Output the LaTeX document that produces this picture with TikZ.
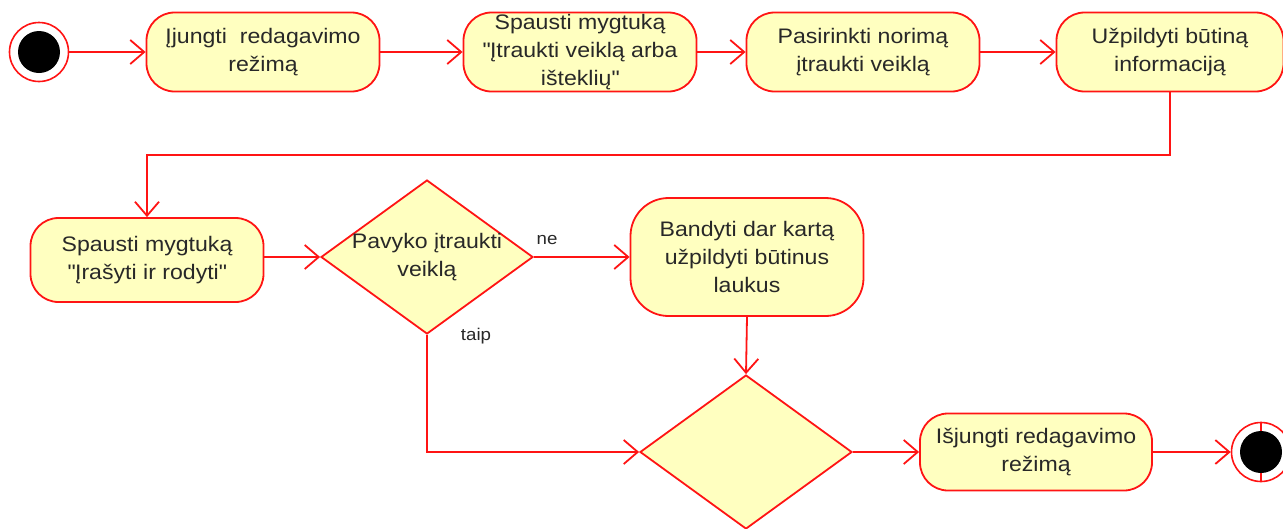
\documentclass[tikz,border=0pt]{standalone}
\usepackage{fontspec}
\setmainfont[FakeStretch=1.1]{Liberation Sans}
\usetikzlibrary{arrows.meta,shapes.geometric}
\definecolor{boxfill}{RGB}{255,255,192}
\definecolor{linered}{RGB}{255,20,20}
\definecolor{txt}{RGB}{40,40,40}
\newcommand{\qd}{\textquotedbl}
\tikzset{
  act/.style={draw=linered, line width=1.8pt, fill=boxfill, rounded corners=28pt,
    minimum width=233pt, minimum height=79pt, align=center, text=txt,
    font=\fontsize{21}{28}\selectfont, inner sep=0pt},
  dec/.style={draw=linered, line width=1.8pt, fill=boxfill, diamond,
    minimum width=212pt, minimum height=154pt, inner sep=0pt},
  flow/.style={draw=linered, line width=1.8pt,
    -{Straight Barb[length=14pt,width=24pt,line width=1.8pt]}},
  lbl/.style={text=txt, font=\fontsize{17}{20}\selectfont, inner sep=0pt},
  startring/.style={circle, draw=linered, line width=1.6pt, fill=white, minimum size=59pt, inner sep=0pt},
  dot/.style={circle, fill=black, minimum size=42pt, inner sep=0pt}
}
\begin{document}
\begin{tikzpicture}[x=1pt,y=-1pt]
\useasboundingbox (0,0) rectangle (1283,528);
% start
\node[startring] (s) at (39,52) {};
\node[dot] (sd) at (39,52) {};
% top row
\node[act] (b1) at (263,52) {Įjungti\ \ redagavimo\\režimą};
\node[act] (b2) at (580,52) {Spausti mygtuką\\\qd Įtraukti veiklą arba\\išteklių\qd};
\node[act] (b3) at (863,52) {Pasirinkti norimą\\įtraukti veiklą};
\node[act, minimum width=227pt] (b4) at (1170,52) {Užpildyti būtiną\\informaciją};
% middle row
\node[act, minimum height=84pt] (b5) at (147,260) {Spausti mygtuką\\\qd Įrašyti ir rodyti\qd};
\node[dec, label={[align=center, text=txt, font=\fontsize{21}{28}\selectfont]center:Pavyko įtraukti\\veiklą}] (d1) at (427,257) {};
\node[act, minimum height=118pt, rounded corners=38pt] (b6) at (747,257) {Bandyti dar kartą\\užpildyti būtinus\\laukus};
% bottom row
\node[dec] (d2) at (746,452) {};
\node[act, minimum width=232pt, minimum height=77pt] (b7) at (1036,452) {Išjungti redagavimo\\režimą};
\node[startring] (e) at (1261,452) {};
\node[dot] (ed) at (1261,452) {};
\draw[draw=linered, line width=1.4pt] (e.north) -- (ed.north);
\draw[draw=linered, line width=1.4pt] (e.south) -- (ed.south);
% connectors
\coordinate (k) at (0,155);
\draw[flow] (s) -- (b1);
\draw[flow] (b1) -- (b2);
\draw[flow] (b2) -- (b3);
\draw[flow] (b3) -- (b4);
\draw[flow] (b4.south) -- (b4.south |- k) -| (b5.north);
\draw[flow] (b5.east |- d1.west) -- (d1.west);
\draw[flow] (d1.east) -- (b6.west |- d1.east);
\node[lbl] (ne) at (547,240) {ne};
\draw[flow] (b6.south) -- (d2.north);
\draw[flow] (d1.south) |- (d2.west);
\node[lbl] (taip) at (476,336) {taip};
\draw[flow] (d2.east) -- (b7.west);
\draw[flow] (b7.east) -- (e.west);
\end{tikzpicture}
\end{document}
